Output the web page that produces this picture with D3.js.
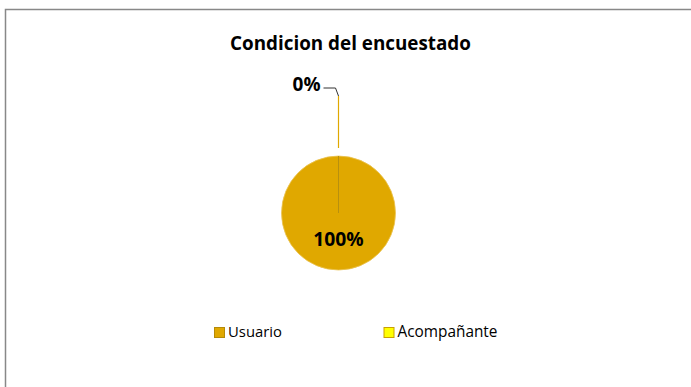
<!DOCTYPE html>
<html>
<head>
<meta charset="utf-8">
<script src="https://cdn.jsdelivr.net/npm/d3@7"></script>
<style>
  html, body { margin: 0; padding: 0; background: #fff; }
  svg { display: block; }
  text { font-family: "Open Sans", "Liberation Sans", Arial, sans-serif; }
</style>
</head>
<body>
<svg id="chart" width="691" height="387"></svg>
<script>
// Survey respondent condition
const title = "Condicion del encuestado";
const categories = ["Usuario", "Acompañante"];
const values = [100, 0];
const colors = ["#E0A800", "#FFFF00"];
const borders = ["#B58A08", "#C9A000"];

const svg = d3.select("#chart");
const W = 691, H = 387;

// chart frame (continues past the right and bottom edges)
svg.append("rect")
  .attr("x", 5.5).attr("y", 9.5)
  .attr("width", W + 20).attr("height", H + 20)
  .attr("fill", "#fff")
  .attr("stroke", "#888").attr("stroke-width", 1.5);

// fit a text element to a target width
function fitWidth(sel, target, base) {
  sel.attr("font-size", base);
  const w = sel.node().getComputedTextLength();
  sel.attr("font-size", base * target / w);
}

// title
const t = svg.append("text")
  .attr("x", 350.5).attr("y", 49.5)
  .attr("text-anchor", "middle")
  .attr("font-weight", "bold")
  .attr("fill", "#000")
  .text(title);
fitWidth(t, 241, 20);

// pie
const cx = 338.5, cy = 213, r = 57;
const total = d3.sum(values);
const pie = d3.pie().sort(null).value(d => d)(values);
const arc = d3.arc().innerRadius(0).outerRadius(r);
const labelArc = d3.arc().innerRadius(0).outerRadius(r * 0.9);

const g = svg.append("g").attr("transform", `translate(${cx},${cy})`);

g.selectAll("path.slice")
  .data(pie)
  .join("path")
  .attr("class", "slice")
  .attr("d", arc)
  .attr("fill", (d, i) => colors[i])
  .attr("stroke", (d, i) => i === 0 ? "#EBC455" : "#B8900E")
  .attr("stroke-width", (d, i) => i === 0 ? 0.8 : 1);

const pct = v => Math.round(v / total * 100) + "%";

// labels: slices with room get a centred label, zero-size slices get a leader line
pie.forEach((d, i) => {
  const span = d.endAngle - d.startAngle;
  if (span > 0.3) {
    const [lx, ly] = labelArc.centroid(d);
    const tx = g.append("text")
      .attr("x", lx).attr("y", ly)
      .attr("text-anchor", "middle")
      .attr("dominant-baseline", "central")
      .attr("font-weight", "bold")
      .attr("fill", "#000")
      .text(pct(d.value));
    fitWidth(tx, 50.5, 19);
  } else {
    const a = (d.startAngle + d.endAngle) / 2;
    const pt = rad => [Math.sin(a) * rad, -Math.cos(a) * rad];
    const p0 = pt(r + 8), p1 = pt(r + 60);
    g.append("line")
      .attr("x1", p0[0]).attr("y1", p0[1])
      .attr("x2", p1[0]).attr("y2", p1[1])
      .attr("stroke", colors[0]).attr("stroke-width", 1.2);
    const elbow = [p1[0] - 3, p1[1] - 8];
    const end = [p1[0] - 15, p1[1] - 8];
    g.append("path")
      .attr("d", d3.line()([p1, elbow, end]))
      .attr("fill", "none")
      .attr("stroke", "#333").attr("stroke-width", 1);
    const tx = g.append("text")
      .attr("x", end[0] - 3).attr("y", end[1] - 4)
      .attr("text-anchor", "end")
      .attr("dominant-baseline", "central")
      .attr("font-weight", "bold")
      .attr("fill", "#000")
      .text(pct(d.value));
    fitWidth(tx, 28, 19);
  }
});

// legend
const legendX = [214, 383.5];
const lg = svg.append("g");
categories.forEach((c, i) => {
  const item = lg.append("g").attr("transform", `translate(${legendX[i]},327)`);
  item.append("rect")
    .attr("x", 0.5).attr("y", 0.5)
    .attr("width", 10).attr("height", 10)
    .attr("fill", colors[i])
    .attr("stroke", borders[i]).attr("stroke-width", 1);
  const tx = item.append("text")
    .attr("x", 14).attr("y", 10)
    .attr("fill", "#000")
    .text(c);
  fitWidth(tx, i === 0 ? 54 : 100, 15);
});
</script>
</body>
</html>
